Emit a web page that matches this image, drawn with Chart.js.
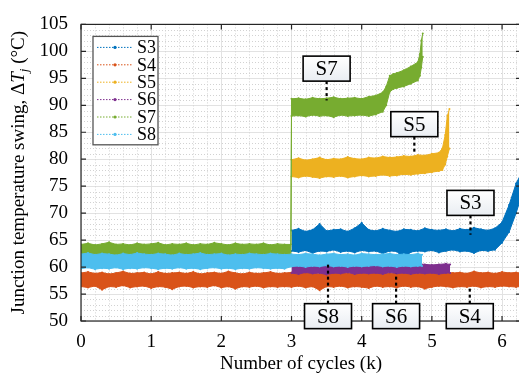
<!DOCTYPE html>
<html>
<head>
<meta charset="utf-8">
<script src="https://cdn.jsdelivr.net/npm/chart.js@4.4.1/dist/chart.umd.min.js"></script>
<style>
  html, body { margin: 0; padding: 0; background: #fff; overflow: hidden; }
  canvas { display: block; }
</style>
</head>
<body>
<canvas id="grafico" width="522" height="376"></canvas>
<script>
// series names and colours (MATLAB defaults)
const seriesNames = ['S3', 'S4', 'S5', 'S6', 'S7', 'S8'];
const seriesColors = ['#0072bd', '#d95319', '#edb120', '#7e2f8e', '#77ac30', '#4dbeee'];

// each series is read as a noisy band: upper and lower edge per cycle count (k)
const s3Cycles = [3.0, 3.1, 3.2, 3.3, 3.4, 3.5, 3.6, 3.7, 3.8, 3.9, 4.0, 4.1, 4.2, 4.3, 4.4, 4.5, 4.6, 4.7, 4.8, 4.9, 5.0, 5.1, 5.2, 5.3, 5.4, 5.5, 5.6, 5.7, 5.8, 5.9, 6.0, 6.1, 6.2, 6.26];
const s3Upper = [66.8, 67.1, 66.6, 66.9, 68.0, 66.7, 66.9, 67.0, 66.6, 67.2, 68.2, 66.9, 66.7, 67.1, 66.8, 66.6, 67.0, 66.9, 66.7, 67.2, 66.9, 66.8, 67.0, 66.7, 67.1, 66.9, 67.3, 67.0, 66.8, 67.2, 68.3, 71.5, 75.5, 77.0];
const s3Lower = [63.0, 62.8, 63.1, 62.6, 63.0, 62.9, 63.2, 62.8, 63.0, 62.7, 63.1, 62.9, 63.0, 62.5, 63.0, 62.9, 61.6, 62.8, 63.0, 62.9, 63.1, 62.7, 63.0, 63.2, 62.9, 63.0, 62.6, 63.1, 63.0, 63.2, 64.5, 66.5, 70.0, 72.5];

const s4Cycles = [0, 0.1, 0.2, 0.3, 0.4, 0.5, 0.6, 0.7, 0.8, 0.9, 1.0, 1.1, 1.2, 1.3, 1.4, 1.5, 1.6, 1.7, 1.8, 1.9, 2.0, 2.1, 2.2, 2.3, 2.4, 2.5, 2.6, 2.7, 2.8, 2.9,
  3.0, 3.1, 3.2, 3.3, 3.4, 3.5, 3.6, 3.7, 3.8, 3.9, 4.0, 4.1, 4.2, 4.3, 4.4, 4.5, 4.6, 4.7, 4.8, 4.9, 5.0, 5.1, 5.2, 5.3, 5.4, 5.5, 5.6, 5.7, 5.8, 5.9, 6.0, 6.1, 6.2, 6.26];
const s4Upper = [58.9, 59.1, 58.8, 59.0, 58.7, 58.9, 59.2, 58.8, 58.9, 59.0, 58.7, 59.1, 58.8, 58.9, 59.0, 58.8, 59.1, 58.7, 58.9, 59.0, 58.8, 59.2, 58.9, 58.7, 59.0, 58.8, 58.9, 59.1, 58.8, 58.9,
  59.0, 58.8, 59.1, 58.9, 58.7, 59.0, 58.9, 59.2, 58.8, 58.9, 59.0, 58.7, 59.1, 58.9, 58.8, 59.0, 58.9, 59.1, 58.8, 59.0, 58.9, 58.8, 59.1, 58.9, 59.0, 58.8, 59.2, 58.9, 59.0, 58.8, 59.1, 58.9, 59.0, 58.9];
const s4Lower = [56.4, 56.2, 56.5, 55.8, 56.4, 56.3, 56.6, 56.2, 56.4, 56.5, 56.1, 56.4, 56.3, 55.9, 56.4, 56.5, 56.2, 56.4, 56.3, 56.6, 56.2, 56.4, 56.0, 56.4, 56.3, 56.5, 56.2, 56.4, 56.3, 56.4,
  56.3, 56.5, 56.2, 56.4, 55.7, 56.4, 56.3, 56.5, 56.2, 56.4, 56.3, 56.1, 56.5, 56.3, 56.4, 56.2, 56.5, 56.3, 56.4, 56.0, 56.3, 56.5, 56.4, 56.2, 56.4, 56.3, 56.5, 56.2, 56.4, 56.3, 56.5, 56.4, 56.3, 56.4];

const s5Cycles = [3.0, 3.1, 3.2, 3.3, 3.4, 3.5, 3.6, 3.7, 3.8, 3.9, 4.0, 4.1, 4.2, 4.3, 4.4, 4.5, 4.6, 4.7, 4.8, 4.9, 5.0, 5.1, 5.15, 5.19, 5.22, 5.25];
const s5Upper = [79.9, 80.2, 79.8, 80.0, 80.3, 79.9, 80.1, 80.0, 80.4, 80.1, 80.0, 80.3, 80.2, 80.5, 80.3, 80.4, 80.6, 80.5, 80.8, 80.7, 81.0, 81.2, 82.0, 84.5, 88.0, 89.3];
const s5Lower = [76.8, 76.6, 76.9, 76.7, 76.5, 76.8, 76.7, 76.9, 76.6, 76.8, 77.0, 76.8, 76.9, 77.1, 76.9, 77.0, 77.2, 77.1, 77.3, 77.4, 77.6, 77.8, 78.0, 79.0, 80.5, 82.0];

const s6Cycles = [3.0, 3.1, 3.2, 3.3, 3.4, 3.5, 3.6, 3.7, 3.8, 3.9, 4.0, 4.1, 4.2, 4.3, 4.4, 4.5, 4.6, 4.7, 4.8, 4.9, 5.0, 5.1, 5.2, 5.26];
const s6Upper = [60.4, 60.5, 60.3, 60.4, 60.6, 60.3, 60.4, 60.5, 60.3, 60.4, 60.6, 60.4, 60.3, 60.5, 60.4, 60.3, 60.5, 60.4, 60.6, 60.5, 60.4, 60.5, 60.6, 60.5];
const s6Lower = [58.9, 58.7, 59.0, 58.8, 58.9, 58.6, 58.9, 58.8, 59.0, 58.7, 58.9, 58.8, 58.9, 58.7, 59.0, 58.8, 58.9, 58.7, 58.9, 58.8, 58.9, 58.7, 58.9, 58.9];

const s7Cycles = [0, 0.1, 0.2, 0.3, 0.4, 0.5, 0.6, 0.7, 0.8, 0.9, 1.0, 1.1, 1.2, 1.3, 1.4, 1.5, 1.6, 1.7, 1.8, 1.9, 2.0, 2.1, 2.2, 2.3, 2.4, 2.5, 2.6, 2.7, 2.8, 2.9, 2.99,
  3.0, 3.1, 3.2, 3.3, 3.4, 3.5, 3.6, 3.7, 3.8, 3.9, 4.0, 4.1, 4.2, 4.3, 4.35, 4.4, 4.45, 4.5, 4.6, 4.7, 4.8, 4.83, 4.85, 4.87];
const s7Upper = [64.2, 64.4, 64.1, 64.3, 64.6, 64.2, 64.3, 64.1, 64.4, 64.2, 64.3, 64.5, 64.1, 64.3, 64.2, 64.4, 64.1, 64.3, 64.2, 64.5, 64.3, 64.1, 64.4, 64.2, 64.3, 64.2, 64.4, 64.1, 64.3, 64.2, 64.2,
  91.2, 91.3, 91.1, 91.4, 91.2, 91.3, 91.5, 91.2, 91.3, 91.4, 91.2, 91.6, 91.8, 92.4, 93.5, 95.5, 95.8, 96.0, 96.5, 97.2, 98.0, 99.5, 102.0, 103.3];
const s7Lower = [61.4, 61.6, 61.3, 61.5, 61.4, 61.2, 61.5, 61.4, 61.6, 61.3, 61.5, 61.4, 61.2, 61.5, 61.4, 61.6, 61.3, 61.4, 61.5, 61.3, 61.4, 61.6, 61.3, 61.5, 61.4, 61.3, 61.5, 61.4, 61.3, 61.5, 61.4,
  88.0, 88.1, 87.9, 88.2, 88.0, 88.1, 87.8, 88.2, 88.0, 88.1, 88.2, 88.0, 88.3, 88.8, 90.0, 92.5, 93.0, 93.2, 93.5, 94.0, 94.6, 95.5, 97.0, 99.0];

const s8Cycles = [0, 0.1, 0.2, 0.3, 0.4, 0.5, 0.6, 0.7, 0.8, 0.9, 1.0, 1.1, 1.2, 1.3, 1.4, 1.5, 1.6, 1.7, 1.8, 1.9, 2.0, 2.1, 2.2, 2.3, 2.4, 2.5, 2.6, 2.7, 2.8, 2.9,
  3.0, 3.1, 3.2, 3.3, 3.4, 3.5, 3.6, 3.7, 3.8, 3.9, 4.0, 4.1, 4.2, 4.3, 4.4, 4.5, 4.6, 4.7, 4.8, 4.86];
const s8Upper = [62.4, 62.6, 62.3, 62.5, 62.4, 62.2, 62.5, 62.3, 62.6, 62.4, 62.3, 62.5, 62.4, 62.2, 62.5, 62.3, 62.4, 62.6, 62.3, 62.4, 62.5, 62.2, 62.4, 62.3, 62.5, 62.4, 62.3, 62.5, 62.4, 62.3,
  62.4, 62.3, 62.5, 62.4, 62.2, 62.4, 62.5, 62.3, 62.4, 62.2, 62.5, 62.4, 62.3, 62.4, 62.5, 62.3, 62.4, 62.3, 62.5, 62.3];
const s8Lower = [59.7, 59.9, 59.6, 59.8, 59.7, 59.9, 59.6, 59.8, 59.7, 59.9, 59.8, 59.6, 59.8, 59.7, 59.9, 59.7, 59.8, 59.6, 59.8, 59.9, 59.7, 59.8, 59.6, 59.8, 59.7, 59.9, 59.8, 59.7, 59.8, 59.7,
  60.1, 60.2, 60.0, 60.2, 60.1, 60.3, 60.1, 60.2, 60.0, 60.2, 60.1, 60.2, 60.3, 60.1, 60.2, 60.0, 60.2, 60.1, 60.2, 60.2];

const seriesCycles = [s3Cycles, s4Cycles, s5Cycles, s6Cycles, s7Cycles, s8Cycles];
const seriesUpper = [s3Upper, s4Upper, s5Upper, s6Upper, s7Upper, s8Upper];
const seriesLower = [s3Lower, s4Lower, s5Lower, s6Lower, s7Lower, s8Lower];

// axis ticks
const xTicks = [0, 1, 2, 3, 4, 5, 6];
const yTicks = [50, 55, 60, 65, 70, 75, 80, 85, 90, 95, 100, 105];

// callout labels: name, cycle position, box centre value, leader end value
const calloutNames = ['S7', 'S5', 'S3', 'S8', 'S6', 'S4'];
const calloutX = [3.5, 4.75, 5.55, 3.52, 4.49, 5.54];
const calloutBoxY = [96.8, 86.5, 71.9, 50.9, 50.9, 50.9];
const calloutTipY = [90.9, 81.2, 66.0, 60.6, 58.8, 56.1];

const serif = "'Liberation Serif', 'Times New Roman', serif";
Chart.defaults.font.family = serif;
Chart.defaults.color = '#000';

const datasets = [];
seriesNames.forEach((name, i) => {
  const up = seriesCycles[i].map((c, k) => ({ x: c, y: seriesUpper[i][k] }));
  const lo = seriesCycles[i].map((c, k) => ({ x: c, y: seriesLower[i][k] }));
  const upIndex = datasets.length;
  const common = {
    borderColor: seriesColors[i],
    backgroundColor: seriesColors[i],
    borderWidth: 1,
    pointRadius: 1,
    pointHoverRadius: 1,
    pointBorderWidth: 0,
    tension: 0,
    order: 10 - i
  };
  datasets.push(Object.assign({ label: name, data: up, fill: false }, common));
  datasets.push(Object.assign({ label: name + ' low', data: lo, fill: upIndex }, common));
});

// dotted minor grid + box with inward ticks
const gradeMenor = {
  id: 'gradeMenor',
  beforeDatasetsDraw(chart) {
    const { ctx, chartArea: a, scales: { x, y } } = chart;
    ctx.save();
    ctx.strokeStyle = '#d2d2d2';
    ctx.lineWidth = 1;
    ctx.setLineDash([1, 2]);
    for (let k = 1; k * 0.2 < x.max; k++) {
      if (k % 5 === 0) continue;
      const px = Math.round(x.getPixelForValue(k * 0.2)) + 0.5;
      ctx.beginPath(); ctx.moveTo(px, a.top); ctx.lineTo(px, a.bottom); ctx.stroke();
    }
    for (let v = y.min + 1; v < y.max; v++) {
      if (v % 5 === 0) continue;
      const py = Math.round(y.getPixelForValue(v)) + 0.5;
      ctx.beginPath(); ctx.moveTo(a.left, py); ctx.lineTo(a.right, py); ctx.stroke();
    }
    ctx.restore();
  },
  afterDatasetsDraw(chart) {
    const { ctx, chartArea: a, scales: { x, y } } = chart;
    ctx.save();
    ctx.strokeStyle = '#262626';
    ctx.lineWidth = 1.2;
    ctx.strokeRect(a.left, a.top, a.right - a.left, a.bottom - a.top);
    ctx.beginPath();
    xTicks.forEach(t => {
      const px = x.getPixelForValue(t);
      ctx.moveTo(px, a.bottom); ctx.lineTo(px, a.bottom - 5);
      ctx.moveTo(px, a.top); ctx.lineTo(px, a.top + 5);
    });
    yTicks.forEach(t => {
      const py = y.getPixelForValue(t);
      ctx.moveTo(a.left, py); ctx.lineTo(a.left + 5, py);
      ctx.moveTo(a.right, py); ctx.lineTo(a.right - 5, py);
    });
    ctx.stroke();
    ctx.restore();
  }
};

// legend box inside the plot, top left
const legendaDentro = {
  id: 'legendaDentro',
  afterDatasetsDraw(chart) {
    const { ctx, chartArea: a } = chart;
    const left = a.left + 12, top = a.top + 12, w = 65, rowH = 17.4;
    const h = rowH * seriesNames.length + 4;
    ctx.save();
    ctx.fillStyle = '#fff';
    ctx.fillRect(left, top, w, h);
    ctx.strokeStyle = '#555';
    ctx.lineWidth = 1.3;
    ctx.strokeRect(left, top, w, h);
    ctx.font = '18px ' + serif;
    ctx.textBaseline = 'middle';
    seriesNames.forEach((name, i) => {
      const cy = top + 11 + i * rowH;
      ctx.strokeStyle = seriesColors[i];
      ctx.fillStyle = seriesColors[i];
      ctx.lineWidth = 1;
      ctx.setLineDash([1.5, 1.5]);
      ctx.beginPath(); ctx.moveTo(left + 4, cy); ctx.lineTo(left + 40, cy); ctx.stroke();
      ctx.setLineDash([]);
      ctx.beginPath(); ctx.arc(left + 22, cy, 1.6, 0, Math.PI * 2); ctx.fill();
      ctx.fillStyle = '#000';
      ctx.fillText(name, left + 44, cy + 1);
    });
    ctx.restore();
  }
};

// callout boxes with dashed leaders, y title with italic T and subscript j
const rotulos = {
  id: 'rotulos',
  afterDraw(chart) {
    const { ctx, chartArea: a, scales: { x, y } } = chart;
    ctx.save();
    calloutNames.forEach((name, i) => {
      const cx = x.getPixelForValue(calloutX[i]);
      const cy = y.getPixelForValue(calloutBoxY[i]);
      const tip = y.getPixelForValue(calloutTipY[i]);
      const bw = 47, bh = 25;
      const edge = tip > cy ? cy + bh / 2 : cy - bh / 2;
      ctx.strokeStyle = '#000';
      ctx.lineWidth = 2.2;
      ctx.setLineDash([3, 3]);
      ctx.beginPath(); ctx.moveTo(cx, edge); ctx.lineTo(cx, tip); ctx.stroke();
      ctx.setLineDash([]);
      const g = ctx.createLinearGradient(0, cy - bh / 2, 0, cy + bh / 2);
      g.addColorStop(0, '#ffffff');
      g.addColorStop(1, '#e9edf2');
      ctx.fillStyle = g;
      ctx.fillRect(cx - bw / 2, cy - bh / 2, bw, bh);
      ctx.lineWidth = 1.6;
      ctx.strokeRect(cx - bw / 2, cy - bh / 2, bw, bh);
      ctx.fillStyle = '#000';
      ctx.font = '21px ' + serif;
      ctx.textAlign = 'center';
      ctx.textBaseline = 'middle';
      ctx.fillText(name, cx, cy + 1);
    });

    // y axis title
    const parts = [
      { t: 'Junction temperature swing, \u0394', f: '19px ' + serif, dy: 0 },
      { t: 'T', f: 'italic 19px ' + serif, dy: 0 },
      { t: 'j', f: 'italic 13px ' + serif, dy: 4 },
      { t: ' (\u00b0C)', f: '19px ' + serif, dy: 0 }
    ];
    let total = 0;
    parts.forEach(p => { ctx.font = p.f; p.w = ctx.measureText(p.t).width; total += p.w; });
    ctx.translate(24, (a.top + a.bottom) / 2);
    ctx.rotate(-Math.PI / 2);
    ctx.textAlign = 'left';
    ctx.textBaseline = 'alphabetic';
    let pos = -total / 2;
    parts.forEach(p => {
      ctx.font = p.f;
      ctx.fillText(p.t, pos, p.dy);
      pos += p.w;
    });
    ctx.restore();
  }
};

const ctx = document.getElementById('grafico').getContext('2d');
const grafico = new Chart(ctx, {
  type: 'line',
  data: { datasets: datasets },
  options: {
    responsive: false,
    animation: false,
    events: [],
    layout: { padding: { top: 15, right: 1, left: 0, bottom: 0 } },
    plugins: { legend: { display: false }, tooltip: { enabled: false } },
    scales: {
      x: {
        type: 'linear',
        min: 0,
        max: 6.27,
        afterFit(scale) { scale.height = 55; },
        afterBuildTicks(scale) { scale.ticks = xTicks.map(v => ({ value: v })); },
        ticks: { font: { size: 19 }, padding: 10, maxRotation: 0, callback: v => String(v) },
        grid: { color: '#e2e2e2', lineWidth: 1, drawTicks: false },
        border: { display: false },
        title: { display: true, text: 'Number of cycles (k)', font: { size: 19 }, padding: { top: 0, bottom: 1 } }
      },
      y: {
        type: 'linear',
        min: 50,
        max: 105,
        afterFit(scale) { scale.width = 81; },
        afterBuildTicks(scale) { scale.ticks = yTicks.map(v => ({ value: v })); },
        ticks: { font: { size: 19 }, padding: 13, callback: v => String(v) },
        grid: { color: '#e2e2e2', lineWidth: 1, drawTicks: false },
        border: { display: false }
      }
    }
  },
  plugins: [gradeMenor, legendaDentro, rotulos]
});
</script>
</body>
</html>
